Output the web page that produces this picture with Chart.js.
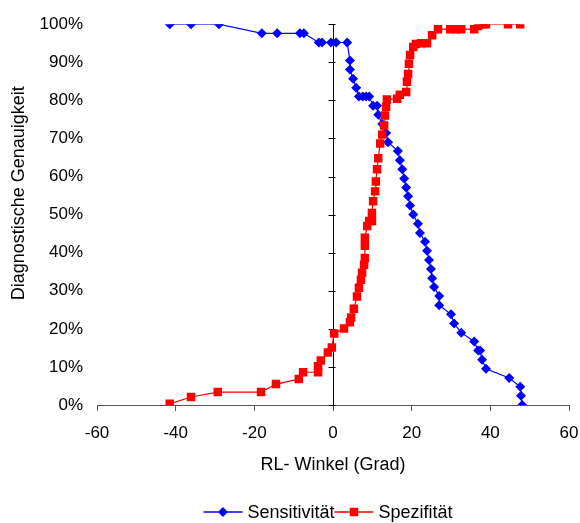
<!DOCTYPE html>
<html lang="de">
<head>
<meta charset="UTF-8">
<title>Sensitivität und Spezifität</title>
<script src="https://cdn.jsdelivr.net/npm/chart.js"></script>
<style>
  html, body { margin: 0; padding: 0; background: #fff; }
</style>
</head>
<body>
<canvas id="chart" width="580" height="523"></canvas>
<script>
// RL-Winkel (Grad) und Werte in %
const sensWinkel = [-41.5, -36.1, -29.0, -18.1, -14.2, -8.4, -7.4, -3.6, -2.8, -0.5, 0.8, 3.6,
    4.3, 4.3, 5.1, 5.9, 6.6, 7.6, 8.4, 9.2, 10.2, 11.2, 11.5, 12.5, 13.5, 14.0, 16.5, 17.0,
    17.6, 18.1, 18.6, 19.1, 19.6, 20.4, 21.6, 22.1, 23.4, 23.9, 24.4, 24.9, 25.2, 25.7, 27.0,
    27.0, 30.0, 30.8, 32.6, 35.9, 36.9, 37.4, 37.9, 38.9, 44.8, 47.6, 47.8, 48.1];
const sensWert = [100, 100, 100, 97.6, 97.6, 97.6, 97.6, 95.2, 95.2, 95.2, 95.2, 95.2,
    90.5, 88.1, 85.7, 83.3, 81.0, 81.0, 81.0, 81.0, 78.6, 78.6, 76.2, 73.8, 71.4, 69.0, 66.7, 64.3,
    61.9, 59.5, 57.1, 54.8, 52.4, 50.0, 47.6, 45.2, 42.9, 40.5, 38.1, 35.7, 33.3, 31.0, 28.6,
    26.2, 23.8, 21.4, 19.0, 16.7, 14.3, 14.3, 11.9, 9.5, 7.1, 4.8, 2.4, 0];

const spezWinkel = [-41.5, -36.1, -29.3, -18.3, -14.5, -8.7, -7.6, -3.8, -3.8, -3.1, -1.3, -0.3,
    0.3, 2.8, 4.3, 4.6, 5.3, 6.1, 6.6, 7.1, 7.4, 7.9, 8.1, 8.1, 8.1, 8.7, 9.2, 9.9, 9.9, 10.2,
    10.7, 10.9, 11.2, 11.5, 12.0, 12.5, 13.0, 13.2, 13.5, 13.7, 16.3, 17.0, 18.6, 18.8, 19.1,
    19.3, 19.6, 20.4, 21.1, 22.4, 23.9, 25.2, 26.7, 29.8, 31.3, 32.6, 35.9, 36.9, 38.2, 38.9,
    44.5, 47.6];
const spezWert = [0.3, 2.1, 3.4, 3.4, 5.5, 6.8, 8.6, 8.6, 10.2, 11.7, 13.8, 15.1,
    18.8, 20.1, 21.7, 23.0, 25.3, 28.5, 30.8, 32.9, 34.7, 36.8, 38.6, 41.8, 43.9, 47.0, 48.3, 48.3, 50.4, 53.5,
    56.1, 58.7, 61.9, 64.8, 68.7, 71.0, 73.4, 76.0, 78.3, 80.2, 80.4, 81.5, 82.2, 84.9, 86.9,
    89.6, 91.9, 94.0, 94.8, 95.0, 95.0, 97.1, 98.7, 98.7, 98.7, 98.7, 98.7, 99.5, 100, 100,
    100, 100];

const xTicks = [-60, -40, -20, 0, 20, 40, 60];
const yTicks = [0, 10, 20, 30, 40, 50, 60, 70, 80, 90, 100];
const yTitle = 'Diagnostische Genauigkeit';

const FONT = "'Liberation Sans', Arial, sans-serif";

function toPoints(xs, ys) {
    return xs.map((x, i) => ({ x: x, y: ys[i] }));
}

function drawMarker(ctx, style, r, x, y, color) {
    ctx.fillStyle = color;
    ctx.beginPath();
    if (style === 'rectRot') {
        ctx.moveTo(x, y - r);
        ctx.lineTo(x + r, y);
        ctx.lineTo(x, y + r);
        ctx.lineTo(x - r, y);
    } else {
        const s = r * Math.SQRT1_2;
        ctx.rect(x - s, y - s, 2 * s, 2 * s);
    }
    ctx.closePath();
    ctx.fill();
}

// small tick marks on the vertical axis at x = 0
const zeroAxisTicks = {
    id: 'zeroAxisTicks',
    beforeDatasetsDraw(chart) {
        const ctx = chart.ctx;
        const x0 = Math.round(chart.scales.x.getPixelForValue(0)) + 0.5;
        ctx.save();
        ctx.strokeStyle = '#000';
        ctx.lineWidth = 1;
        yTicks.forEach(v => {
            const y = Math.round(chart.scales.y.getPixelForValue(v)) + 0.5;
            ctx.beginPath();
            ctx.moveTo(x0 - 5, y);
            ctx.lineTo(x0 + 2, y);
            ctx.stroke();
        });
        ctx.restore();
    }
};

// y title, drawn a bit above the middle of the plot as in the original
const sideTitle = {
    id: 'sideTitle',
    afterDraw(chart) {
        const ctx = chart.ctx;
        const area = chart.chartArea;
        ctx.save();
        ctx.translate(19, area.top + 169);
        ctx.rotate(-Math.PI / 2);
        ctx.font = '18px ' + FONT;
        ctx.fillStyle = '#000';
        ctx.textAlign = 'center';
        ctx.textBaseline = 'middle';
        ctx.fillText(yTitle, 0, 0);
        ctx.restore();
    }
};

// legend with line + marker like the original
const lineLegend = {
    id: 'lineLegend',
    afterDraw(chart) {
        const ctx = chart.ctx;
        const lineLen = 39, gap = 5;
        ctx.save();
        ctx.font = '18px ' + FONT;
        const sets = chart.data.datasets;
        const widths = sets.map(d => ctx.measureText(d.label).width);
        let total = 0;
        widths.forEach(w => { total += lineLen + gap + w; });
        const area = chart.chartArea;
        let x = (area.left + area.right) / 2 - 5 - total / 2;
        const y = 512;
        sets.forEach((d, i) => {
            ctx.strokeStyle = d.borderColor;
            ctx.lineWidth = 1.3;
            ctx.beginPath();
            ctx.moveTo(x, y);
            ctx.lineTo(x + lineLen, y);
            ctx.stroke();
            drawMarker(ctx, d.pointStyle, d.pointRadius, x + lineLen / 2, y, d.backgroundColor);
            ctx.fillStyle = '#000';
            ctx.textAlign = 'left';
            ctx.textBaseline = 'middle';
            ctx.fillText(d.label, x + lineLen + gap, y + 1);
            x += lineLen + gap + widths[i];
        });
        ctx.restore();
    }
};

const ctx = document.getElementById('chart').getContext('2d');
new Chart(ctx, {
    type: 'scatter',
    data: {
        datasets: [{
            label: 'Sensitivität',
            data: toPoints(sensWinkel, sensWert),
            borderColor: '#0000ff',
            backgroundColor: '#0000ff',
            borderWidth: 1.2,
            pointStyle: 'rectRot',
            pointRadius: 5,
            pointBorderWidth: 0,
            showLine: true,
            order: 1
        }, {
            label: 'Spezifität',
            data: toPoints(spezWinkel, spezWert),
            borderColor: '#ff0000',
            backgroundColor: '#ff0000',
            borderWidth: 1.2,
            pointStyle: 'rect',
            pointRadius: 6,
            pointBorderWidth: 0,
            showLine: true,
            order: 0
        }]
    },
    options: {
        responsive: false,
        animation: false,
        layout: { padding: { top: 22, right: 0, bottom: 0, left: 0 } },
        plugins: {
            legend: { display: false },
            tooltip: { enabled: false }
        },
        scales: {
            x: {
                type: 'linear',
                min: -60,
                max: 60,
                afterBuildTicks: s => { s.ticks = xTicks.map(v => ({ value: v })); },
                afterFit: s => {
                    s.height = 118;
                    s.paddingLeft = 0;
                    s.paddingRight = 11;
                },
                ticks: { font: { family: FONT, size: 17 }, color: '#000', padding: 12, maxRotation: 0 },
                grid: {
                    color: c => (c.tick && c.tick.value === 0) ? '#000' : 'rgba(0,0,0,0)',
                    tickColor: '#555',
                    tickLength: 6,
                    lineWidth: 1
                },
                border: { color: '#555' },
                title: {
                    display: true,
                    text: 'RL- Winkel (Grad)',
                    font: { family: FONT, size: 18 },
                    color: '#000',
                    padding: { top: 0, bottom: 47 }
                }
            },
            y: {
                min: 0,
                max: 100,
                afterBuildTicks: s => { s.ticks = yTicks.map(v => ({ value: v })); },
                afterFit: s => { s.width = 97; },
                ticks: {
                    font: { family: FONT, size: 17 },
                    color: '#000',
                    padding: 14,
                    callback: v => v + '%'
                },
                grid: { display: false, drawTicks: false },
                border: { display: false }
            }
        }
    },
    plugins: [zeroAxisTicks, sideTitle, lineLegend]
});
</script>
</body>
</html>
